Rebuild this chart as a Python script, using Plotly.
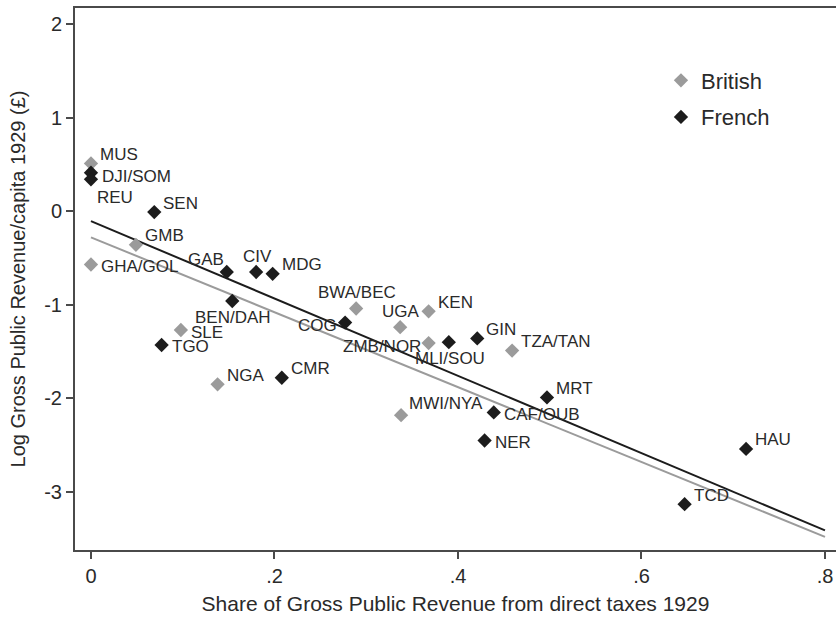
import plotly.graph_objects as go

# ---------------- data ----------------
british_codes = ["MUS", "GHA/GOL", "GMB", "SLE", "NGA", "BWA/BEC", "UGA", "KEN",
                 "ZMB/NOR", "TZA/TAN", "MWI/NYA"]
british_x = [0.000, 0.000, 0.049, 0.098, 0.138, 0.289, 0.337, 0.368, 0.368, 0.459, 0.338]
british_y = [0.51, -0.57, -0.36, -1.27, -1.85, -1.04, -1.24, -1.07, -1.41, -1.49, -2.18]
british_labpos = ["2", "3", "2", "3", "2", "12", "12", "2", "9", "2", "1"]

french_codes = ["DJI/SOM", "REU", "SEN", "GAB", "CIV", "MDG", "BEN/DAH", "TGO", "CMR",
                "COG", "MLI/SOU", "GIN", "MRT", "CAF/OUB", "NER", "HAU", "TCD"]
french_x = [0.000, 0.000, 0.069, 0.148, 0.180, 0.198, 0.154, 0.077, 0.208,
            0.277, 0.390, 0.421, 0.497, 0.439, 0.429, 0.714, 0.647]
french_y = [0.41, 0.34, -0.01, -0.65, -0.65, -0.67, -0.96, -1.43, -1.78,
            -1.19, -1.40, -1.36, -1.99, -2.15, -2.45, -2.54, -3.13]
french_labpos = ["4", "5", "2", "11", "12", "2", "6", "3", "2",
                 "9", "6", "2", "2", "3", "3", "2", "2"]

fit_x = [0.0, 0.8]
fit_black_intercept, fit_black_slope = -0.107, -4.13
fit_gray_intercept, fit_gray_slope = -0.28, -4.00

x_tickvals = [0, 0.2, 0.4, 0.6, 0.8]
x_ticktext = ["0", ".2", ".4", ".6", ".8"]
y_tickvals = [2, 1, 0, -1, -2, -3]
y_ticktext = ["2", "1", "0", "-1", "-2", "-3"]

x_title = "Share of Gross Public Revenue from direct taxes 1929"
y_title = "Log Gross Public Revenue/capita 1929 (£)"

# ---------------- styling ----------------
FONT = "Liberation Sans, Arial, Helvetica, sans-serif"
GRAY = "#9b9b9b"
BLACK = "#1c1c1c"
TXT = "#2a2a2a"
AX = "#4a4a4a"

# clock-position -> annotation placement
POS = {
    "1": dict(xanchor="left", yanchor="middle", xshift=8, yshift=12),
    "2": dict(xanchor="left", yanchor="middle", xshift=9, yshift=9),
    "3": dict(xanchor="left", yanchor="middle", xshift=10, yshift=-2),
    "4": dict(xanchor="left", yanchor="middle", xshift=11, yshift=-4),
    "5": dict(xanchor="left", yanchor="top", xshift=6, yshift=-9),
    "12": dict(xanchor="center", yanchor="bottom", xshift=1, yshift=6),
    "11": dict(xanchor="right", yanchor="bottom", xshift=-3, yshift=3),
    "9": dict(xanchor="right", yanchor="middle", xshift=-8, yshift=-3),
    "6": dict(xanchor="center", yanchor="top", xshift=1, yshift=-7),
}

fig = go.Figure()

fig.add_trace(go.Scatter(
    x=fit_x, y=[fit_gray_intercept + fit_gray_slope * v for v in fit_x],
    mode="lines", line=dict(color=GRAY, width=2), showlegend=False, hoverinfo="skip"))
fig.add_trace(go.Scatter(
    x=fit_x, y=[fit_black_intercept + fit_black_slope * v for v in fit_x],
    mode="lines", line=dict(color=BLACK, width=2), showlegend=False, hoverinfo="skip"))

fig.add_trace(go.Scatter(
    x=british_x, y=british_y, mode="markers", name="British", legendgroup="b",
    marker=dict(symbol="diamond", size=11, color=GRAY, line=dict(width=0))))
fig.add_trace(go.Scatter(
    x=french_x, y=french_y, mode="markers", name="French", legendgroup="f",
    marker=dict(symbol="diamond", size=11, color=BLACK, line=dict(width=0))))

for codes, xs, ys, ps in [(british_codes, british_x, british_y, british_labpos),
                          (french_codes, french_x, french_y, french_labpos)]:
    for c, xv, yv, p in zip(codes, xs, ys, ps):
        fig.add_annotation(x=xv, y=yv, text=c, showarrow=False, borderpad=0, borderwidth=0,
                           font=dict(family=FONT, size=17, color=TXT), **POS[p])

fig.update_layout(
    width=836, height=617,
    margin=dict(l=75, r=0, t=8, b=67, autoexpand=False),
    paper_bgcolor="white", plot_bgcolor="white",
    font=dict(family=FONT, color=TXT),
    legend=dict(x=0.770, y=0.905, xanchor="left", yanchor="top",
                font=dict(family=FONT, size=22, color=TXT),
                bgcolor="rgba(0,0,0,0)", tracegroupgap=5, itemwidth=30),
)
fig.update_xaxes(
    range=[-0.0174, 0.812], showgrid=False, zeroline=False, automargin=False,
    showline=True, mirror=True, linecolor=AX, linewidth=2,
    ticks="outside", ticklen=7, tickwidth=1.5, tickcolor=AX,
    tickvals=x_tickvals, ticktext=x_ticktext,
    tickfont=dict(family=FONT, size=20, color=TXT),
    title=dict(text=x_title, font=dict(family=FONT, size=21, color=TXT), standoff=10),
)
fig.update_yaxes(
    range=[-3.62, 2.17], showgrid=False, zeroline=False, automargin=False,
    showline=True, mirror=False, linecolor=AX, linewidth=2,
    ticks="outside", ticklen=7, tickwidth=1.5, tickcolor=AX,
    tickvals=y_tickvals, ticktext=y_ticktext,
    tickfont=dict(family=FONT, size=20, color=TXT),
    title=dict(text=y_title, font=dict(family=FONT, size=20, color=TXT), standoff=13),
)

fig.write_html("out.html", config={"displayModeBar": False},
               post_script="document.body.style.margin='0';document.body.style.overflow='hidden';")
